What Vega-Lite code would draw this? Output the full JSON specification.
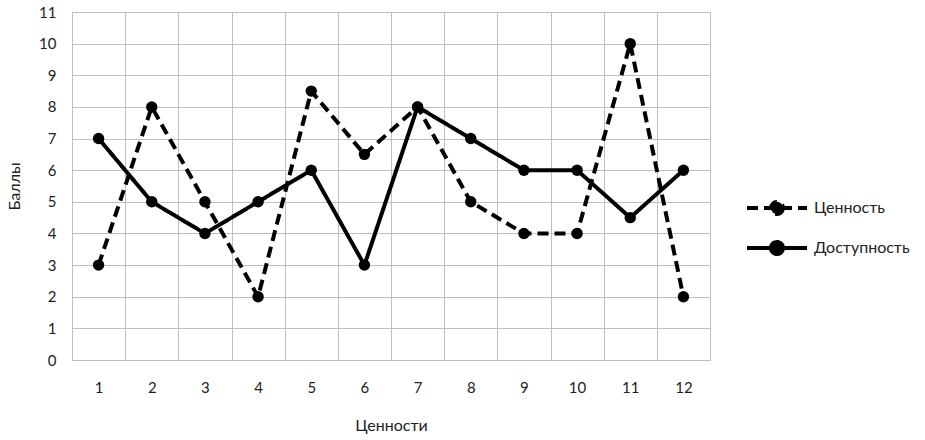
{
  "$schema": "https://vega.github.io/schema/vega-lite/v6.json",
  "width": 638,
  "height": 348,
  "autosize": {"type": "none"},
  "padding": {"left": 72, "top": 12, "right": 215, "bottom": 80},
  "background": "white",
  "config": {
    "view": {"stroke": "#bfbfbf", "strokeWidth": 1},
    "font": "Lato",
    "axis": {"labelFont": "Lato", "titleFont": "Lato", "labelColor": "#222", "titleColor": "#222", "labelFontSize": 15, "titleFontSize": 16, "titleFontWeight": "normal", "gridColor": "#bfbfbf", "gridOpacity": 1, "domainColor": "#bfbfbf", "ticks": false}
  },
  "data": {
    "values": [
      {"v": 1, "s": "Ценность", "y": 3},
      {"v": 2, "s": "Ценность", "y": 8},
      {"v": 3, "s": "Ценность", "y": 5},
      {"v": 4, "s": "Ценность", "y": 2},
      {"v": 5, "s": "Ценность", "y": 8.5},
      {"v": 6, "s": "Ценность", "y": 6.5},
      {"v": 7, "s": "Ценность", "y": 8},
      {"v": 8, "s": "Ценность", "y": 5},
      {"v": 9, "s": "Ценность", "y": 4},
      {"v": 10, "s": "Ценность", "y": 4},
      {"v": 11, "s": "Ценность", "y": 10},
      {"v": 12, "s": "Ценность", "y": 2},
      {"v": 1, "s": "Доступность", "y": 7},
      {"v": 2, "s": "Доступность", "y": 5},
      {"v": 3, "s": "Доступность", "y": 4},
      {"v": 4, "s": "Доступность", "y": 5},
      {"v": 5, "s": "Доступность", "y": 6},
      {"v": 6, "s": "Доступность", "y": 3},
      {"v": 7, "s": "Доступность", "y": 8},
      {"v": 8, "s": "Доступность", "y": 7},
      {"v": 9, "s": "Доступность", "y": 6},
      {"v": 10, "s": "Доступность", "y": 6},
      {"v": 11, "s": "Доступность", "y": 4.5},
      {"v": 12, "s": "Доступность", "y": 6}
    ]
  },
  "encoding": {
    "x": {
      "field": "v", "type": "quantitative",
      "scale": {"domain": [0.5, 12.5], "nice": false, "zero": false},
      "axis": {
        "title": "Ценности",
        "values": [0.5, 1.5, 2.5, 3.5, 4.5, 5.5, 6.5, 7.5, 8.5, 9.5, 10.5, 11.5, 12.5],
        "labelExpr": "datum.value < 1 ? '' : format(datum.value - 0.5, 'd')",
        "labelOffset": -26.6,
        "labelPadding": 20,
        "titlePadding": 22,
        "labelFlush": false,
        "labelOverlap": false,
        "grid": true
      }
    },
    "y": {
      "field": "y", "type": "quantitative",
      "scale": {"domain": [0, 11], "nice": false},
      "axis": {"title": "Баллы", "values": [0,1,2,3,4,5,6,7,8,9,10,11], "labelPadding": 16, "titlePadding": 16, "grid": true}
    }
  },
  "layer": [
    {
      "mark": {"type": "line", "color": "black", "strokeWidth": 4},
      "encoding": {
        "strokeDash": {
          "field": "s", "type": "nominal",
          "scale": {"domain": ["Ценность", "Доступность"], "range": [[11, 6], [1, 0]]},
          "legend": {
            "title": null,
            "orient": "none",
            "legendX": 688,
            "legendY": 179,
            "symbolType": "M-2,0L2,0M0.4,0A0.4,0.4 0 1,1 -0.4,0A0.4,0.4 0 1,1 0.4,0Z",
            "symbolSize": 900,
            "symbolStrokeWidth": 4,
            "symbolStrokeColor": "black",
            "symbolFillColor": "black",
            "labelFont": "Lato",
            "labelFontSize": 16,
            "labelColor": "#222",
            "labelOffset": 20,
            "rowPadding": 9
          }
        }
      }
    },
    {
      "mark": {"type": "point", "filled": true, "color": "black", "size": 130, "opacity": 1},
      "encoding": {"detail": {"field": "s"}}
    }
  ]
}
